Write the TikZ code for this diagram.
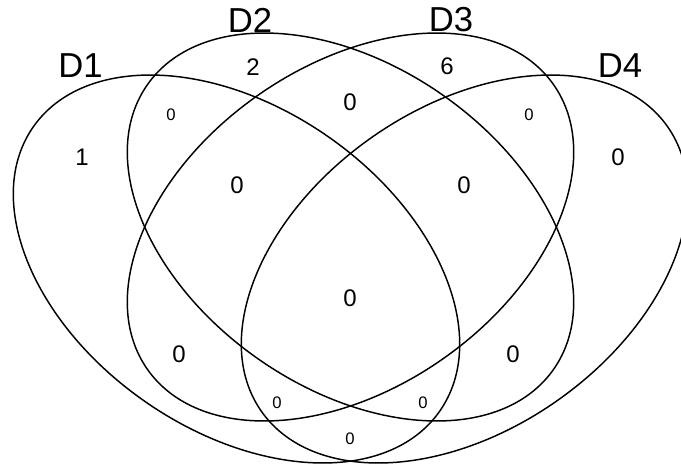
\documentclass[tikz,border=0pt]{standalone}
\usepackage{fontspec}
\setmainfont{Liberation Sans}
\tikzset{every picture/.style={line width=1.1pt}}
\tikzset{
  setlabel/.style={font=\fontsize{26}{30}\selectfont, inner sep=0pt},
  bignum/.style={font=\fontsize{18}{21}\selectfont, inner sep=0pt},
  smallnum/.style={font=\fontsize{12.5}{15}\selectfont, inner sep=0pt}
}

\begin{document}
\begin{tikzpicture}[x=0.75pt,y=0.75pt,yscale=-1,xscale=1]
	%set diagram frame to 681 x 465
	\useasboundingbox (0,0) rectangle (681,465);

	%Shape: Ellipse [D1]
	\draw [rotate around={35:(236.5,269)}] (236.5,269) ellipse (248 and 161);
	%Shape: Ellipse [D2]
	\draw [rotate around={35:(350.5,227)}] (350.5,227) ellipse (248 and 161);
	%Shape: Ellipse [D3]
	\draw [rotate around={-35:(350.5,227)}] (350.5,227) ellipse (248 and 161);
	%Shape: Ellipse [D4]
	\draw [rotate around={-35:(464.5,269)}] (464.5,269) ellipse (248 and 161);

	% Text Node
	\node [setlabel] (labD1) at (80.5,65.5) {D1};
	% Text Node
	\node [setlabel] (labD2) at (250,20) {D2};
	% Text Node
	\node [setlabel] (labD3) at (451,20) {D3};
	% Text Node
	\node [setlabel] (labD4) at (620,65.5) {D4};

	% Text Node
	\node [bignum] (onlyA) at (82,157) {1};
	% Text Node
	\node [bignum] (onlyB) at (253,67) {2};
	% Text Node
	\node [bignum] (onlyC) at (447,66) {6};
	% Text Node
	\node [bignum] (onlyD) at (618,157) {0};
	% Text Node
	\node [smallnum] (nAB) at (171,115) {0};
	% Text Node
	\node [bignum] (nBC) at (350,102) {0};
	% Text Node
	\node [smallnum] (nCD) at (529,115) {0};
	% Text Node
	\node [bignum] (nABC) at (237,185) {0};
	% Text Node
	\node [bignum] (nBCD) at (464,185) {0};
	% Text Node
	\node [bignum] (nABCD) at (350,298) {0};
	% Text Node
	\node [bignum] (nAC) at (179,354) {0};
	% Text Node
	\node [bignum] (nBD) at (513,354) {0};
	% Text Node
	\node [smallnum] (nACD) at (277,403) {0};
	% Text Node
	\node [smallnum] (nABD) at (423,403) {0};
	% Text Node
	\node [smallnum] (nAD) at (350,439) {0};

\end{tikzpicture}
\end{document}
